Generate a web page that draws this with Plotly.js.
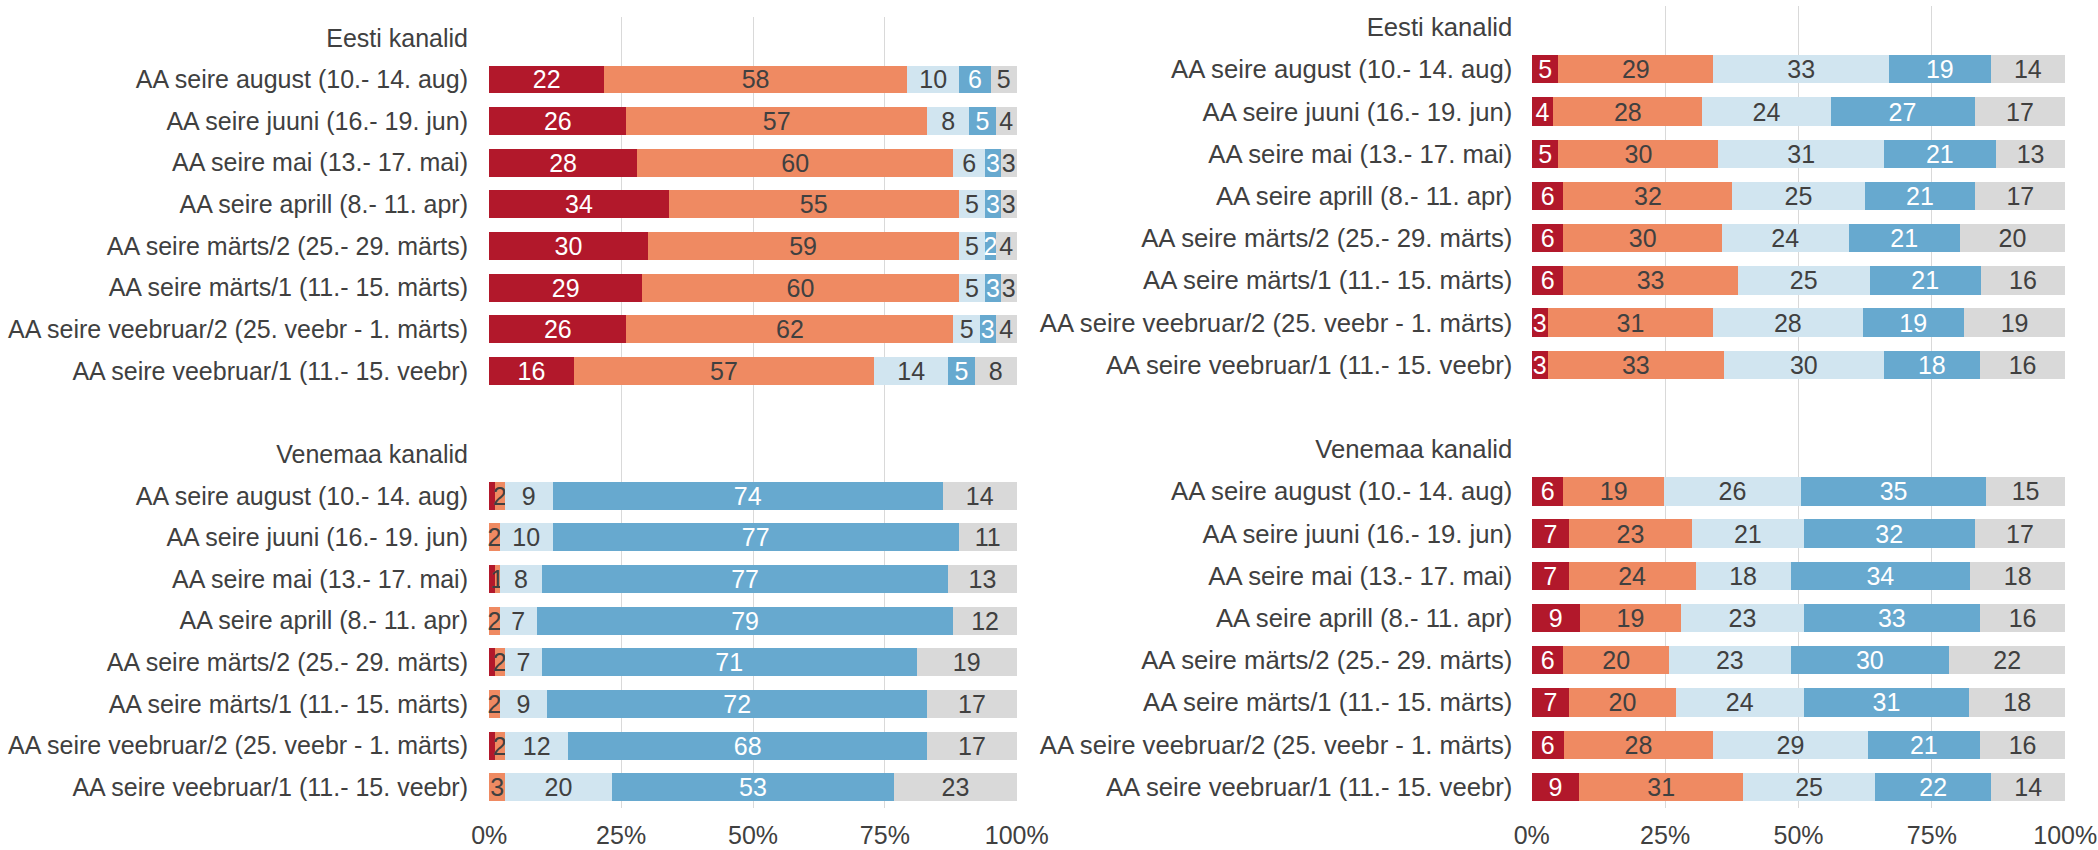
<!DOCTYPE html>
<html>
<head>
<meta charset="utf-8">
<script src="https://cdn.plot.ly/plotly-3.0.1.min.js"></script>
<style>
  html, body { margin: 0; padding: 0; background: #ffffff; }
  #chart { width: 2098px; height: 850px; }
</style>
</head>
<body>
<div id="chart"></div>
<script>
// ---- Row and group labels ----
const rowLabels = [
  'AA seire august (10.- 14. aug)',
  'AA seire juuni (16.- 19. jun)',
  'AA seire mai (13.- 17. mai)',
  'AA seire aprill (8.- 11. apr)',
  'AA seire märts/2 (25.- 29. märts)',
  'AA seire märts/1 (11.- 15. märts)',
  'AA seire veebruar/2 (25. veebr - 1. märts)',
  'AA seire veebruar/1 (11.- 15. veebr)'
];
const groupNames = ['Eesti kanalid', 'Venemaa kanalid'];
const xTickValues = [0, 25, 50, 75, 100];

// ---- Left panel, Eesti kanalid ----
const leftEestiS1 = [22, 26, 28, 34, 30, 29, 26, 16];
const leftEestiS2 = [58, 57, 60, 55, 59, 60, 62, 57];
const leftEestiS3 = [10, 8, 6, 5, 5, 5, 5, 14];
const leftEestiS4 = [6, 5, 3, 3, 2, 3, 3, 5];
const leftEestiS5 = [5, 4, 3, 3, 4, 3, 4, 8];
// ---- Left panel, Venemaa kanalid ----
const leftVeneS1 = [1, 0, 1, 0, 1, 0, 1, 0];
const leftVeneS2 = [2, 2, 1, 2, 2, 2, 2, 3];
const leftVeneS3 = [9, 10, 8, 7, 7, 9, 12, 20];
const leftVeneS4 = [74, 77, 77, 79, 71, 72, 68, 53];
const leftVeneS5 = [14, 11, 13, 12, 19, 17, 17, 23];

// ---- Right panel, Eesti kanalid ----
const rightEestiS1 = [5, 4, 5, 6, 6, 6, 3, 3];
const rightEestiS2 = [29, 28, 30, 32, 30, 33, 31, 33];
const rightEestiS3 = [33, 24, 31, 25, 24, 25, 28, 30];
const rightEestiS4 = [19, 27, 21, 21, 21, 21, 19, 18];
const rightEestiS5 = [14, 17, 13, 17, 20, 16, 19, 16];
// ---- Right panel, Venemaa kanalid ----
const rightVeneS1 = [6, 7, 7, 9, 6, 7, 6, 9];
const rightVeneS2 = [19, 23, 24, 19, 20, 20, 28, 31];
const rightVeneS3 = [26, 21, 18, 23, 23, 24, 29, 25];
const rightVeneS4 = [35, 32, 34, 33, 30, 31, 21, 22];
const rightVeneS5 = [15, 17, 18, 16, 22, 18, 16, 14];

// ---- Styles ----
const segColors = ['#B2182B', '#EF8A62', '#D1E5F0', '#67A9CF', '#D9D9D9'];
const segTextColors = ['#ffffff', '#404040', '#404040', '#ffffff', '#404040'];
const minLabel = [2, 1, 1, 1, 1];
const FONT = '"Liberation Sans", Arial, sans-serif';
const TXT = '#404040';

// Row slots: header, 8 rows, blank, header, 8 rows
const slotsPerGroup = rowLabels.length + 2;
const rowPos = (g, i) => g * slotsPerGroup + 1 + i;
const tickvals = [], ticktext = [];
groupNames.forEach((gname, g) => {
  tickvals.push(g * slotsPerGroup); ticktext.push(gname);
  rowLabels.forEach((lab, i) => { tickvals.push(rowPos(g, i)); ticktext.push(lab); });
  if (g < groupNames.length - 1) { tickvals.push(g * slotsPerGroup + rowLabels.length + 1); ticktext.push(''); }
});
const yAll = [];
groupNames.forEach((_, g) => rowLabels.forEach((_, i) => yAll.push(rowPos(g, i))));

const leftSeries = [
  [leftEestiS1, leftVeneS1], [leftEestiS2, leftVeneS2], [leftEestiS3, leftVeneS3],
  [leftEestiS4, leftVeneS4], [leftEestiS5, leftVeneS5]
];
const rightSeries = [
  [rightEestiS1, rightVeneS1], [rightEestiS2, rightVeneS2], [rightEestiS3, rightVeneS3],
  [rightEestiS4, rightVeneS4], [rightEestiS5, rightVeneS5]
];

const traces = [];
function addPanel(series, xa, ya, fsize) {
  series.forEach((pair, k) => {
    const x = pair[0].concat(pair[1]);
    traces.push({
      type: 'bar', orientation: 'h',
      x: x, y: yAll, xaxis: xa, yaxis: ya,
      marker: { color: segColors[k], line: { width: 0 } },
      text: x.map(v => (v >= minLabel[k] ? String(v) : '')),
      textposition: 'inside', insidetextanchor: 'middle', textangle: 0,
      insidetextfont: { family: FONT, size: fsize, color: segTextColors[k] },
      hoverinfo: 'x+y', showlegend: false, cliponaxis: false
    });
  });
}
addPanel(leftSeries, 'x', 'y', 25);
addPanel(rightSeries, 'x2', 'y2', 25);

const W = 2098, H = 850;
function xAxisDef(fsize, dom, anchor) {
  return {
    range: [-0.05, 100.05], tickmode: 'array', tickvals: xTickValues,
    ticktext: xTickValues.map(v => v + '%'),
    showgrid: true, gridcolor: '#D9D9D9', gridwidth: 1, zeroline: false,
    showline: false, ticks: 'outside', ticklen: 5, tickcolor: 'rgba(0,0,0,0)',
    tickfont: { family: FONT, size: fsize, color: TXT }, fixedrange: true,
    domain: dom, anchor: anchor
  };
}
function yAxisDef(fsize, tlen, dom, anchor) {
  return {
    range: [tickvals[tickvals.length - 1] + 0.5, -0.5],
    tickmode: 'array', tickvals: tickvals, ticktext: ticktext,
    showgrid: false, zeroline: false, showline: false,
    ticks: 'outside', ticklen: tlen, tickcolor: 'rgba(0,0,0,0)',
    tickfont: { family: FONT, size: fsize, color: TXT }, fixedrange: true,
    domain: dom, anchor: anchor
  };
}

const layout = {
  width: W, height: H,
  margin: { l: 0, r: 0, t: 0, b: 0 },
  paper_bgcolor: '#ffffff', plot_bgcolor: '#ffffff',
  barmode: 'stack', barnorm: 'percent', bargap: 0.33,
  uniformtext: { mode: 'show', minsize: 25 },
  font: { family: FONT, size: 25, color: TXT },
  xaxis: xAxisDef(25, [489 / W, 1017 / W], 'y'),
  yaxis: yAxisDef(25, 15, [1 - 808 / H, 1 - 17 / H], 'x'),
  xaxis2: xAxisDef(25, [1531.5 / W, 2065.5 / W], 'y2'),
  yaxis2: yAxisDef(25.7, 13, [1 - 808 / H, 1 - 6 / H], 'x2')
};

Plotly.newPlot('chart', traces, layout, { staticPlot: true, displayModeBar: false });
</script>
</body>
</html>
